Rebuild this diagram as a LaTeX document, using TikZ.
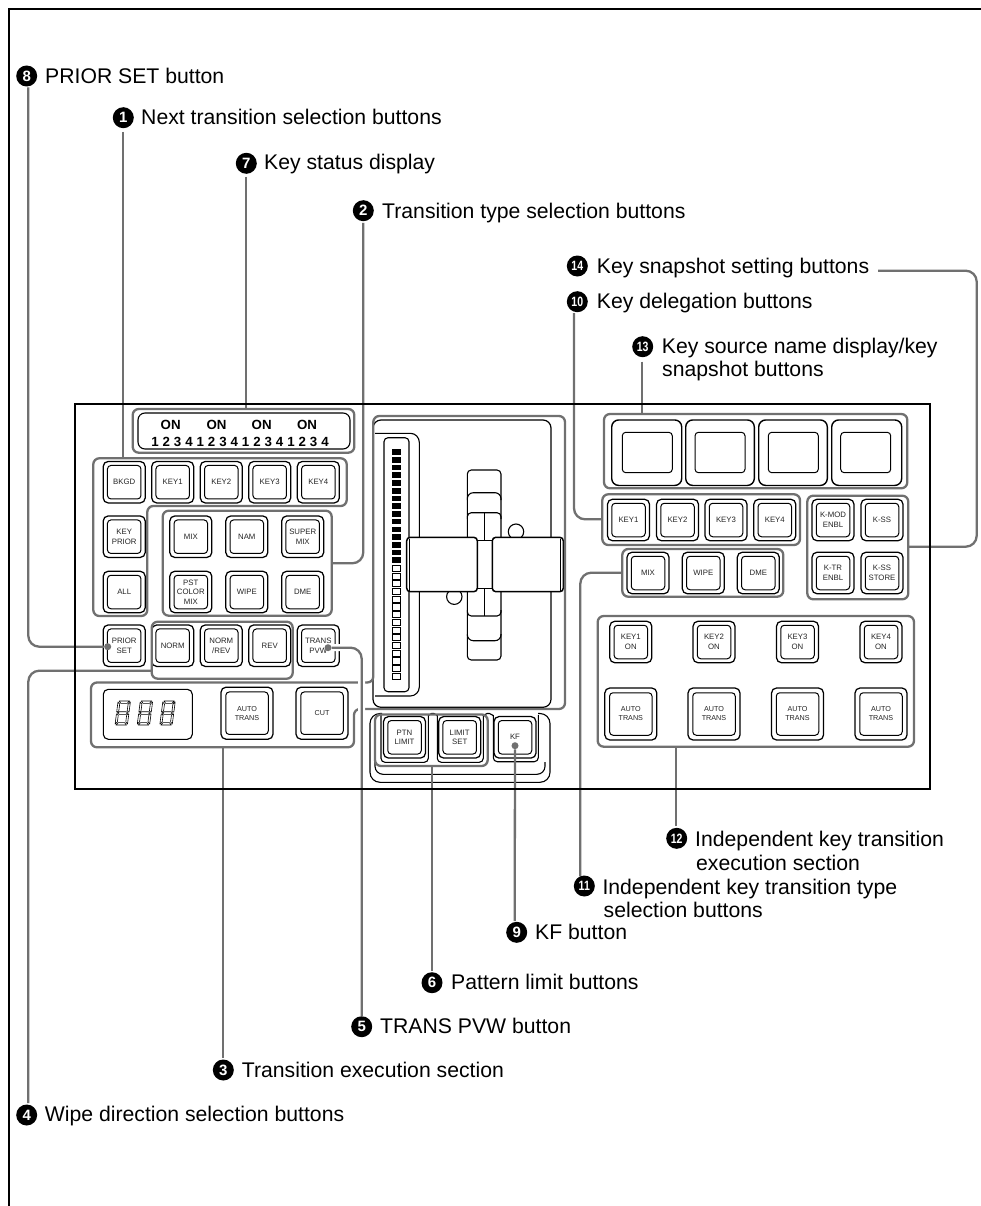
\documentclass[tikz,border=0pt]{standalone}
\usepackage{fontspec}
\setmainfont{Liberation Sans}
\definecolor{leadgray}{HTML}{707070}
\tikzset{
  grp/.style={draw=leadgray,line width=2.3pt,rounded corners=6pt},
  grpbox/.style={grp,inner sep=0pt,outer sep=0pt},
  leader/.style={draw=leadgray,line width=2.3pt,rounded corners=11pt},
  halo/.style={draw=white,line width=7pt,rounded corners=11pt},
  blk/.style={draw=black,line width=1.1pt},
  btnout/.style={draw=black,line width=1.25pt,fill=white,rounded corners=5pt,inner sep=0pt,outer sep=0pt},
  btnin/.style={draw=black,line width=1pt,rounded corners=3.5pt,inner sep=0pt,outer sep=0pt,align=center,text=black!85},
  smallf/.style={font=\fontsize{7.8}{9.7}\selectfont},
  autof/.style={font=\fontsize{7.2}{9}\selectfont},
  num/.style={circle,fill=black,text=white,inner sep=0pt,minimum size=21pt,font=\fontsize{15}{15}\bfseries\selectfont},
  numw/.style={num,font=\fontsize{13.5}{14}\bfseries\selectfont},
  lab/.style={anchor=base west,inner sep=0pt,font=\fontsize{21.2}{24}\selectfont,text=black},
  enddot/.style={circle,fill=leadgray,inner sep=0pt,minimum size=7pt},
  keyon/.style={inner sep=0pt,font=\fontsize{13.3}{14}\bfseries\selectfont},
  keydig/.style={inner sep=0pt,font=\fontsize{13.3}{14}\bfseries\selectfont},
}
\newcommand\twod[1]{\scalebox{0.78}[1]{#1}}
% name, cx, cy, text
\newcommand\btn[4]{%
  \node[btnout,minimum width=42pt,minimum height=41.5pt] (#1) at (#2,#3) {};
  \node[btnin,smallf,minimum width=33.5pt,minimum height=33.5pt] (#1t) at (#2,#3) {#4};}
\newcommand\bigbtn[4]{%
  \node[btnout,minimum width=52pt,minimum height=52pt] (#1) at (#2,#3) {};
  \node[btnin,autof,minimum width=42.5pt,minimum height=42.5pt] (#1t) at (#2,#3) {#4};}
% name, x1,y1,x2,y2
\newcommand\grpn[5]{%
  \node[grpbox,minimum width={#4-#2},minimum height={#5-#3}] (#1) at ({(#2+#4)/2},{(#3+#5)/2}) {};}
% key source button: name, x1, x2, sx1, sx2
\newcommand\srcbtn[5]{%
  \node[btnout,rounded corners=7pt,line width=1.4pt,minimum width={#3-#2},minimum height=65.5pt] (#1) at ({(#2+#3)/2},452.7) {};
  \node[btnin,minimum width={#5-#4},minimum height=40.4pt] (#1s) at ({(#4+#5)/2},452.5) {};}
\newcommand\seven[1]{%
  \begin{scope}[shift={(#1,701)},xslant=0.13]
    \draw[line width=0.6pt,line join=round]
      (1.5,0)--(12,0)--(9.8,2.4)--(3.6,2.4)--cycle
      (1.5,24)--(12,24)--(9.8,21.6)--(3.6,21.6)--cycle
      (1.6,12)--(3.4,10.7)--(10,10.7)--(11.6,12)--(10,13.3)--(3.4,13.3)--cycle
      (0.5,1)--(2.5,3.2)--(2.5,9.8)--(0.9,11.2)--(0.5,11)--cycle
      (12.9,1)--(10.9,3.2)--(10.9,9.8)--(12.5,11.2)--(12.9,11)--cycle
      (0.5,23)--(2.5,20.8)--(2.5,14.2)--(0.9,12.8)--(0.5,13)--cycle
      (12.9,23)--(10.9,20.8)--(10.9,14.2)--(12.5,12.8)--(12.9,13)--cycle;
  \end{scope}}
\begin{document}
\begin{tikzpicture}[x=1pt,y=-1pt]
\useasboundingbox (0,0) rectangle (981,1206);
\fill[white] (0,0) rectangle (981,1206);
% page frame
\draw[black,line width=2pt] (981,9)--(9,9)--(9,1206);
% panel
\fill[white] (75,404) rectangle (930,789);

%--- labels
\node[num] (n8) at (26.7,76) {8};
\node[lab] (t8) at (45,83.3) {PRIOR SET button};
\node[num] (n1) at (123.3,117.7) {1};
\node[lab] (t1) at (141,125) {Next transition selection buttons};
\node[num] (n7) at (246.3,163.3) {7};
\node[lab] (t7) at (264,170) {Key status display};
\node[num] (n2) at (363.3,210.7) {2};
\node[lab] (t2) at (382,218.3) {Transition type selection buttons};
\node[numw] (n14) at (577.3,266) {\twod{14}};
\node[lab] (t14) at (596.7,273.3) {Key snapshot setting buttons};
\node[numw] (n10) at (577.3,301.7) {\twod{10}};
\node[lab] (t10) at (596.7,308.3) {Key delegation buttons};
\node[numw] (n13) at (642.7,346.7) {\twod{13}};
\node[lab] (t13) at (661.7,353.3) {Key source name display/key};
\node[lab] (t13b) at (662,376.7) {snapshot buttons};
\node[numw] (n12) at (676.7,838.3) {\twod{12}};
\node[lab] (t12) at (695,846) {Independent key transition};
\node[lab] (t12b) at (696,870) {execution section};
\node[numw] (n11) at (584.3,886) {\twod{11}};
\node[lab] (t11) at (602.3,894) {Independent key transition type};
\node[lab] (t11b) at (603.5,917.7) {selection buttons};
\node[num] (n9) at (516.7,932.3) {9};
\node[lab] (t9) at (535,939.3) {KF button};
\node[num] (n6) at (432,982.7) {6};
\node[lab] (t6) at (451,989.3) {Pattern limit buttons};
\node[num] (n5) at (361.7,1026.7) {5};
\node[lab] (t5) at (380,1033.3) {TRANS PVW button};
\node[num] (n3) at (223.3,1070) {3};
\node[lab] (t3) at (241.7,1077.3) {Transition execution section};
\node[num] (n4) at (26.7,1115) {4};
\node[lab] (t4) at (44.7,1121.7) {Wipe direction selection buttons};

%--- fader mechanism (black line work)
\draw[blk,line width=1.2pt,rounded corners=8pt] (373,420) rectangle (551,707.3);
\draw[blk,rounded corners=9pt] (375,433.3)--(419.3,433.3)--(419.3,696)--(375,696);
\draw[blk,rounded corners=4pt] (384,437.7) rectangle (409,691.7);
\foreach \i in {0,...,14}{\fill[black] (392.3,{449.3+\i*7.72}) rectangle (400.7,{449.3+\i*7.72+5.6});}
\foreach \i in {15,...,29}{\draw[black,line width=0.6pt,fill=white] (392.6,{449.3+\i*7.72}) rectangle (400.4,{449.3+\i*7.72+6.2});}
\draw[blk,rounded corners=4pt,fill=white] (467.3,470) rectangle (501,660);
\draw[blk,rounded corners=6pt] (467.3,500)--(467.3,492.7)--(501,492.7)--(501,500);
\draw[blk,rounded corners=6pt] (467.3,634)--(467.3,640.7)--(501,640.7)--(501,634);
\draw[blk,rounded corners=4pt] (467.3,519)--(467.3,512.7)--(501,512.7)--(501,519);
\draw[blk,rounded corners=4pt] (467.3,610)--(467.3,616)--(501,616)--(501,610);
\draw[blk] (484.3,512.7)--(484.3,616);
\draw[blk,fill=white] (516,531.7) circle (7.7);
\draw[blk,fill=white] (454.3,596.7) circle (7.7);
\draw[black,line width=1.1pt,fill=white] (477.3,540.7) rectangle (492.3,588.3);
\draw[black,line width=1.5pt,fill=white,rounded corners=3.5pt] (406.7,537.3) rectangle (477.3,591.7);
\draw[black,line width=1.5pt,fill=white,rounded corners=3.5pt] (492.3,537.3) rectangle (563.3,591.7);
\draw[black,line width=0.8pt] (409.4,538.5)--(409.4,590.5) (560.6,538.5)--(560.6,590.5);

%--- pattern limit / KF surround
\draw[blk,rounded corners=10pt] (382,713.5)--(370,713.5)--(370,782.3)--(550,782.3)--(550,713.5)--(538,713.5);
\draw[blk,rounded corners=8pt] (375,745)--(375,774.3)--(545,774.3)--(545,762);
\draw[blk,rounded corners=4pt] (381,715)--(381,762.3)--(428.3,762.3)--(428.3,715);
\draw[blk,rounded corners=4pt] (437.3,715)--(437.3,762.3)--(483.3,762.3)--(483.3,715);
\draw[blk,rounded corners=4pt] (493.3,715)--(493.3,761.7)--(538.3,761.7)--(538.3,715);
\draw[blk,rounded corners=2pt] (428.3,716)--(429.5,713.5)--(436,713.5)--(437.3,716);
\draw[blk,rounded corners=2pt] (483.3,716)--(485,713.5)--(491.5,713.5)--(493.3,716);
\btn{ptn}{404.5}{737.3}{PTN\\LIMIT}
\btn{limit}{459.7}{737.3}{LIMIT\\SET}
\btn{kf}{515}{737.3}{KF}

%--- key status display
\draw[blk,rounded corners=7pt] (138,413) rectangle (350,449);
\foreach \x in {170.7,216.5,261.7,307}{\node[keyon] (on\x) at (\x,424.5) {ON};}
\foreach \d [count=\i from 0] in {1,2,3,4,1,2,3,4,1,2,3,4,1,2,3,4}{
  \node[keydig] (dig\i) at ({155+\i*11.33},442.3) {\d};}

%--- left buttons
\btn{bkgd}{124.2}{482.2}{BKGD}
\btn{k1a}{172.7}{482.2}{KEY1}
\btn{k2a}{221.3}{482.2}{KEY2}
\btn{k3a}{269.7}{482.2}{KEY3}
\btn{k4a}{318.3}{482.2}{KEY4}
\btn{kprior}{124.2}{536.7}{KEY\\PRIOR}
\btn{all}{124.2}{592}{ALL}
\btn{mix}{190.8}{536.7}{MIX}
\btn{nam}{246.8}{536.7}{NAM}
\btn{super}{302.7}{536.7}{SUPER\\MIX}
\btn{pst}{190.8}{592}{PST\\COLOR\\MIX}
\btn{wipe}{246.8}{592}{WIPE}
\btn{dme}{302.7}{592}{DME}
\btn{prior}{124.2}{645.7}{PRIOR\\SET}
\btn{norm}{172.7}{645.7}{NORM}
\btn{normrev}{221.3}{645.7}{NORM\\/REV}
\btn{rev}{269.7}{645.7}{REV}
\btn{trans}{318.3}{645.7}{TRANS\\PVW}

%--- transition execution
\node[draw=black,line width=1.1pt,rounded corners=5pt,inner sep=0pt,minimum width=89pt,minimum height=50pt] (disp) at (147.8,714.3) {};
\seven{117.6}\seven{139.8}\seven{162.4}
\bigbtn{auto}{247}{713.2}{AUTO\\TRANS}
\bigbtn{cut}{322}{713.2}{CUT}

%--- source buttons
\srcbtn{s1}{611.7}{681.7}{622.3}{672.3}
\srcbtn{s2}{685.7}{754.3}{695}{745}
\srcbtn{s3}{758.7}{827.3}{768.3}{818.3}
\srcbtn{s4}{831.7}{901.7}{840.7}{890.7}

%--- right buttons
\btn{k1b}{628.5}{520}{KEY1}
\btn{k2b}{677.5}{520}{KEY2}
\btn{k3b}{726}{520}{KEY3}
\btn{k4b}{774.8}{520}{KEY4}
\btn{kmod}{833}{520}{K-MOD\\ENBL}
\btn{kss}{882}{520}{K-SS}
\btn{ktr}{833}{573}{K-TR\\ENBL}
\btn{ksss}{882}{573}{K-SS\\STORE}
\btn{mixb}{648}{573}{MIX}
\btn{wipeb}{703.3}{573}{WIPE}
\btn{dmeb}{758.3}{573}{DME}
\foreach \x/\k [count=\i] in {630.8/1,714/2,797.5/3,881/4}{
  \btn{kon\i}{\x}{642}{KEY\k\\ON}
  \bigbtn{at\i}{\x}{714}{AUTO\\TRANS}
}

%--- groups
\grpn{g7}{132.7}{409}{354.3}{452.7}
\draw[grp] (93.3,458.3)--(346.7,458.3)--(346.7,506)--(147.3,506)--(147.3,616)--(93.3,616)--cycle;
\grpn{g2}{162.7}{510.7}{331.7}{615.7}
\grpn{g4}{151.7}{621.7}{292.7}{678.7}
\draw[grp] (91,682.5)--(373.3,682.5)--(373.3,416)--(565,416)--(565,709)--(354,709)--(354,747.3)--(91,747.3)--cycle;
\grpn{g6}{375}{714.5}{487.7}{766}
\grpn{g13}{604}{414}{907.3}{488.3}
\grpn{g10}{602.3}{494.3}{800}{545}
\grpn{g14}{807.3}{495.7}{908.3}{599.3}
\grpn{g11}{622.3}{549}{783.3}{596.7}
\grpn{g12}{597.7}{616}{914}{746.7}

%--- connector ends
\coordinate (l8) at (28.3,87.5);
\coordinate (l1) at (123.3,132);
\coordinate (l7) at (246.3,177);
\coordinate (l2) at (363.3,223);
\coordinate (l14) at (878,270.7);
\coordinate (c14) at (976.7,546.7);
\coordinate (l10) at (574,313);
\coordinate (l13) at (641.7,361.7);
\coordinate (l12) at (675.7,826);
\coordinate (l11) at (580.3,876);
\coordinate (l9) at (514.7,921);
\coordinate (l6) at (432,971);
\coordinate (l5) at (361.7,1016);
\coordinate (l3) at (222.7,1058);
\coordinate (l4) at (28.3,1103);
\coordinate (g1top) at (123.3,458.3);
\coordinate (g3bot) at (222.7,747.3);
\node[enddot] (dprior) at (107.7,646.7) {};
\node[enddot] (dtrans) at (328,647.7) {};
\node[enddot] (dkf) at (515,745.7) {};

%--- connectors
\draw[leader] (l8)|-(dprior);
\draw[leader] (l4)|-(g4.west|-0,670.7);
\draw[leader] (l1)--(g1top);
\draw[leader] (l7)--(l7|-g7.north);
\draw[leader] (l2)|-(g2.east|-0,563.3);
\draw[halo] (dtrans)-|(l5);
\draw[leader] (dtrans)-|(l5);
\draw[leader] (l3)--(g3bot);
\draw[leader] (l6)--(l6|-g6.south);
\draw[leader] (l9)--(dkf);
\draw[leader] (l10)|-(g10.west|-0,519.3);
\draw[leader] (l13)--(l13|-g13.north);
\draw[leader] (l14)-|(c14)--(g14.east|-c14);
\draw[leader] (l11)|-(g11.west|-0,572.7);
\draw[leader] (l12)--(l12|-g12.south);

% panel frame on top
\draw[black,line width=2.5pt] (75,404) rectangle (930,789);
\end{tikzpicture}
\end{document}
